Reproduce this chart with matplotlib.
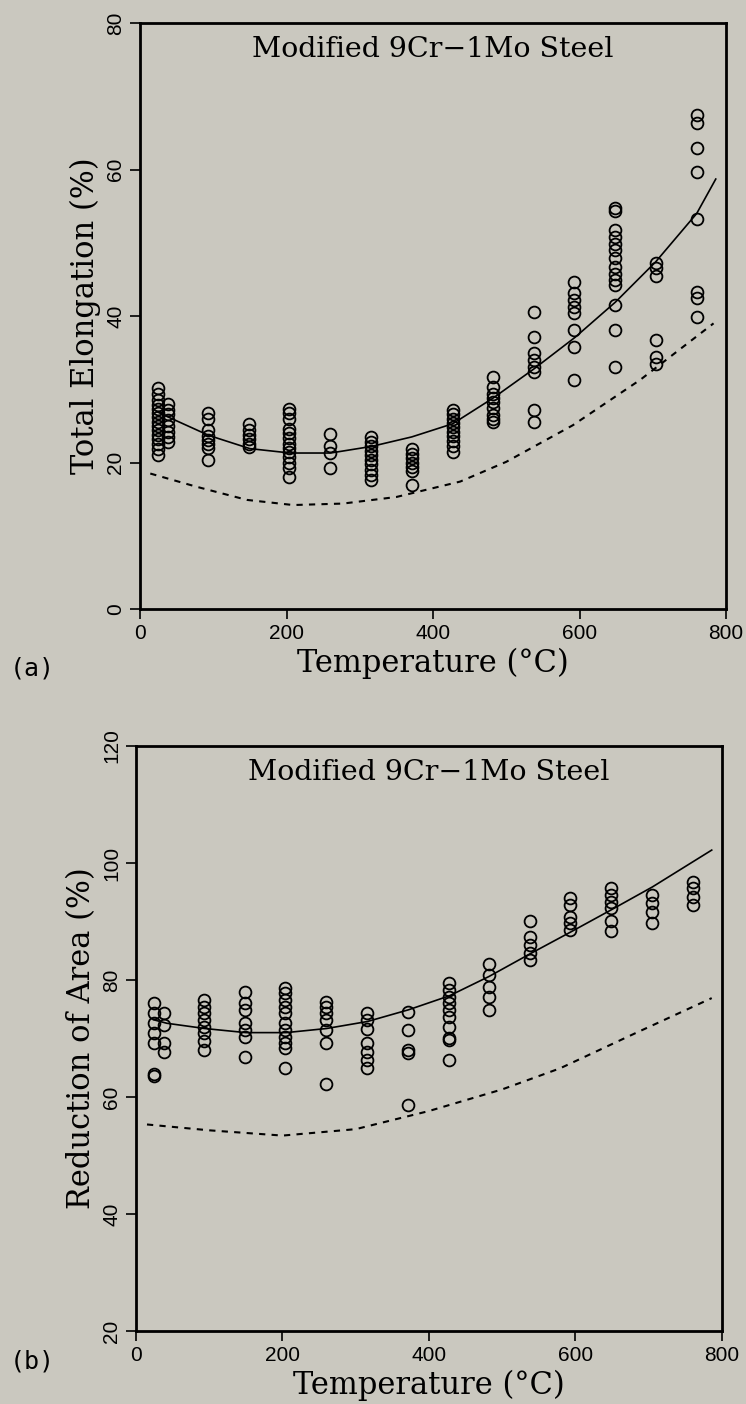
import numpy as np
import matplotlib
matplotlib.use("Agg")
import matplotlib.pyplot as plt

BG = "#cac8bf"

# ---- (a) total elongation: test temperature (C) -> elongation (%)
el_temp = ([24] * 15 + [38] * 8 + [93] * 8 + [149] * 6 + [204] * 13 + [260] * 4
           + [316] * 10 + [371] * 7 + [427] * 10 + [482] * 9 + [538] * 8
           + [593] * 8 + [649] * 14 + [704] * 6 + [760] * 8)
el_val = [30.2, 29.4, 28.6, 27.9, 27.3, 26.8, 26.2, 25.6, 25.0, 24.4, 23.8, 23.2, 22.6, 21.8, 21.0,
          28.0, 27.2, 26.6, 25.8, 25.0, 24.2, 23.5, 22.8,
          26.7, 26.0, 24.4, 23.6, 23.1, 22.5, 22.0, 20.3,
          25.2, 24.5, 23.8, 23.2, 22.6, 22.1,
          27.3, 26.7, 26.0, 24.6, 24.0, 23.3, 22.6, 22.0, 21.4, 20.8, 20.0, 19.2, 18.0,
          23.9, 22.2, 21.3, 19.2,
          23.5, 22.8, 22.2, 21.6, 21.0, 20.4, 19.8, 19.0, 18.3, 17.6,
          21.8, 21.2, 20.6, 20.0, 19.4, 18.8, 16.9,
          27.2, 26.6, 26.0, 25.4, 24.8, 24.2, 23.6, 23.0, 22.3, 21.4,
          31.7, 30.3, 29.4, 28.8, 28.3, 27.4, 26.5, 26.0, 25.6,
          40.6, 37.2, 34.9, 34.0, 33.1, 32.4, 27.2, 25.6,
          44.7, 43.1, 42.2, 41.3, 40.4, 38.1, 35.8, 31.3,
          54.7, 54.3, 51.7, 50.8, 49.9, 49.0, 47.9, 46.7, 45.8, 44.9, 44.2, 41.5, 38.1, 33.1,
          47.2, 46.5, 45.4, 36.7, 34.4, 33.5,
          67.4, 66.3, 62.9, 59.7, 53.2, 43.3, 42.4, 39.9]

el_fit_t = [24, 41, 94, 150, 205, 260, 316, 371, 427, 482, 538, 594, 649, 704, 760, 786]
el_fit_v = [26.9, 26.1, 23.7, 21.9, 21.3, 21.3, 22.2, 23.5, 25.3, 28.8, 32.8, 37.1, 41.9, 47.4, 54.0, 58.7]
el_low_t = [14, 77, 146, 209, 277, 350, 437, 500, 591, 683, 783]
el_low_v = [18.5, 16.7, 14.9, 14.2, 14.4, 15.3, 17.4, 20.1, 25.1, 31.3, 39.0]

# ---- (b) reduction of area
ra_temp = ([24] * 7 + [38] * 4 + [93] * 8 + [149] * 7 + [204] * 11 + [260] * 7
           + [316] * 7 + [371] * 5 + [427] * 10 + [482] * 5 + [538] * 5
           + [593] * 5 + [649] * 6 + [704] * 4 + [760] * 4)
ra_val = [76.0, 74.3, 72.6, 70.9, 69.2, 64.0, 63.5,
          74.3, 72.3, 69.2, 67.7,
          76.6, 75.4, 74.3, 73.2, 72.0, 70.9, 69.5, 68.0,
          78.0, 76.0, 74.9, 72.6, 71.5, 70.3, 66.9,
          78.6, 77.7, 76.6, 75.4, 74.3, 72.6, 71.5, 70.3, 69.2, 68.3, 64.9,
          76.3, 75.4, 74.3, 73.2, 71.5, 69.2, 62.3,
          74.3, 73.2, 71.7, 69.2, 67.7, 66.3, 64.9,
          74.6, 71.5, 68.0, 67.5, 58.6,
          79.4, 78.3, 77.1, 76.0, 74.9, 73.7, 72.0, 70.0, 69.7, 66.3,
          82.8, 80.8, 78.8, 77.1, 74.9,
          90.0, 87.4, 86.0, 84.6, 83.4,
          94.0, 92.8, 90.8, 89.7, 88.5,
          95.7, 94.5, 93.4, 92.3, 90.0, 88.3,
          94.5, 93.1, 91.7, 89.7,
          96.8, 95.7, 94.2, 92.8]

ra_fit_t = [24, 42, 94, 150, 205, 260, 316, 372, 428, 482, 537, 592, 649, 705, 786]
ra_fit_v = [73.2, 72.6, 71.7, 71.0, 71.0, 71.7, 72.9, 74.9, 77.3, 80.6, 84.4, 88.1, 92.0, 95.9, 102.2]
ra_low_t = [15, 100, 200, 300, 400, 500, 579, 680, 786]
ra_low_v = [55.3, 54.3, 53.4, 54.5, 57.6, 61.3, 64.9, 70.8, 76.9]

title = "Modified 9Cr\u22121Mo Steel"

fig = plt.figure(figsize=(7.46, 14.04), dpi=100, facecolor=BG)
ax_a = fig.add_axes([0.1877, 0.5662, 0.7855, 0.4174])
ax_b = fig.add_axes([0.1823, 0.0520, 0.7855, 0.4167])

panels = [
    (ax_a, el_temp, el_val, el_fit_t, el_fit_v, el_low_t, el_low_v,
     (0, 80), [0, 20, 40, 60, 80], "Total Elongation (%)"),
    (ax_b, ra_temp, ra_val, ra_fit_t, ra_fit_v, ra_low_t, ra_low_v,
     (20, 120), [20, 40, 60, 80, 100, 120], "Reduction of Area (%)"),
]

for ax, t, v, ft, fv, lt, lv, ylim, yt, ylab in panels:
    ax.set_facecolor(BG)
    ax.plot(t, v, "o", mfc="none", mec="black", ms=8.5, mew=1.3)
    ax.plot(ft, fv, "-", color="black", lw=1.2)
    ax.plot(lt, lv, color="black", lw=1.5, dashes=(3, 3))
    ax.set_xlim(0, 800)
    ax.set_ylim(*ylim)
    ax.set_xticks([0, 200, 400, 600, 800])
    ax.set_yticks(yt)
    ax.tick_params(direction="out", length=7, width=1.2, labelsize=15)
    for lbl in ax.get_xticklabels() + ax.get_yticklabels():
        lbl.set_family("Liberation Sans")
    for lbl in ax.get_yticklabels():
        lbl.set_rotation(90)
        lbl.set_va("center")
    for s in ax.spines.values():
        s.set_linewidth(2)
    ax.set_xlabel("Temperature (\u00b0C)", family="DejaVu Serif", fontsize=22, labelpad=4)
    ax.set_ylabel(ylab, family="DejaVu Serif", fontsize=22, labelpad=4)
    ax.text(0.5, 0.978, title, transform=ax.transAxes, ha="center", va="top",
            family="DejaVu Serif", fontsize=20.5)

fig.text(0.013, 0.524, "(a)", family="DejaVu Sans Mono", fontsize=18, va="center")
fig.text(0.013, 0.030, "(b)", family="DejaVu Sans Mono", fontsize=18, va="center")

fig.savefig("out.png", dpi=100, facecolor=BG)
